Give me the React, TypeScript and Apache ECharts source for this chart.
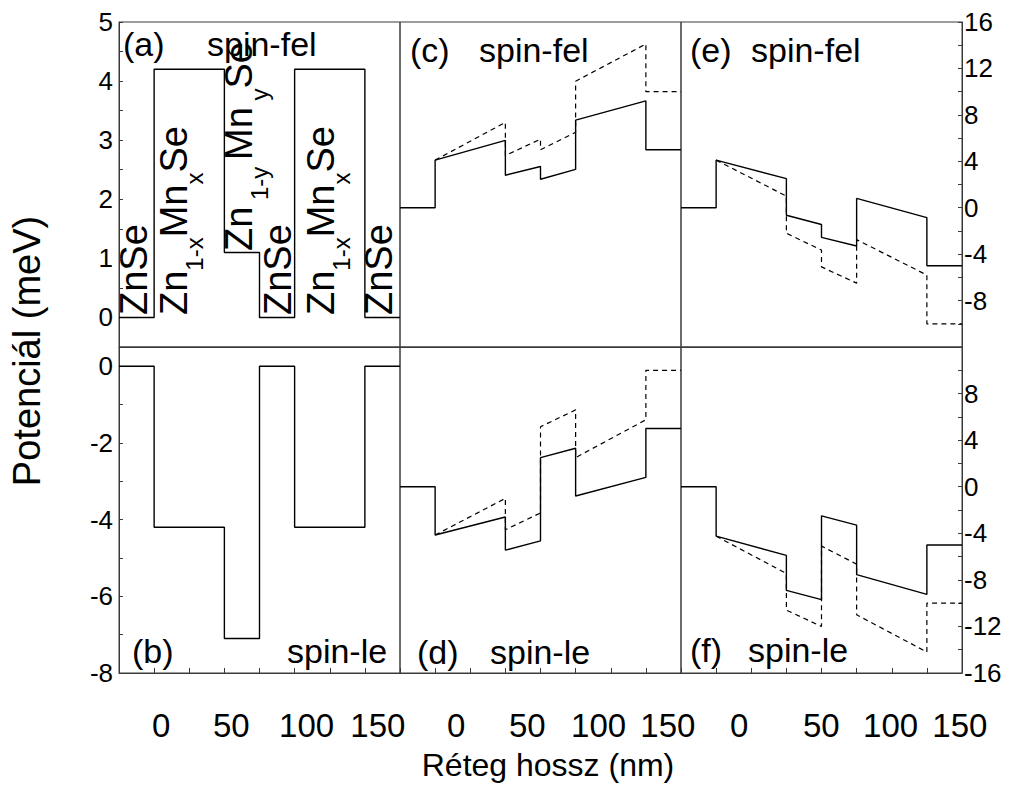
import React, { useEffect, useRef } from 'react';
import * as echarts from 'echarts';

// Layer boundaries along the growth direction (nm)
const layerEdges = [-25, 0, 50, 75, 100, 150, 175];
const xTickLabels = [0, 50, 100, 150];

// Potential per layer: [value at layer start, value at layer end] (meV)
// (a) spin-fel, Mn-profile
const aSolid = [[0, 0], [4.2, 4.2], [1.1, 1.1], [0, 0], [4.2, 4.2], [0, 0]];
// (b) spin-le
const bSolid = [[0, 0], [-4.2, -4.2], [-7.1, -7.1], [0, 0], [-4.2, -4.2], [0, 0]];
// (c) spin-fel
const cSolid = [[0, 0], [4.1, 5.8], [2.8, 3.55], [2.45, 3.3], [7.55, 9.2], [5.0, 5.0]];
const cDashed = [null, [4.1, 7.35], [4.5, 5.9], [5.0, 6.5], [10.9, 14.1], [10, 10]];
// (d) spin-le
const dSolid = [[0, 0], [-4.15, -2.6], [-5.45, -4.65], [2.5, 3.3], [-0.8, 0.8], [5, 5]];
const dDashed = [null, [-4.15, -1.0], [-3.7, -2.25], [5.15, 6.6], [2.5, 5.75], [10, 10]];
// (e) spin-fel
const eSolid = [[0, 0], [4.1, 2.5], [-0.65, -1.45], [-2.55, -3.3], [0.8, -0.85], [-5, -5]];
const eDashed = [null, [4.1, 1.0], [-2.2, -3.65], [-5.1, -6.5], [-2.75, -5.8], [-10, -10]];
// (f) spin-le
const fSolid = [[0, 0], [-4.25, -5.9], [-8.9, -9.7], [-2.5, -3.3], [-7.55, -9.25], [-5, -5]];
const fDashed = [null, [-4.25, -7.45], [-10.6, -12], [-5.1, -6.65], [-11, -14.2], [-10, -10]];

const panelTags = ['(a)', '(b)', '(c)', '(d)', '(e)', '(f)'];
const panelSpins = ['spin-fel', 'spin-le', 'spin-fel', 'spin-le', 'spin-fel', 'spin-le'];

const FONT = "'Liberation Sans', Arial, Helvetica, sans-serif";
const FRAME = '#3a3a3a';

function steps(layers: (number[] | null)[]) {
  const pts: number[][] = [];
  layers.forEach((l, i) => {
    if (!l) return;
    pts.push([layerEdges[i], l[0]], [layerEdges[i + 1], l[1]]);
  });
  return pts;
}

const grids = [
  { left: 119, top: 22, width: 281, height: 325 },
  { left: 119, top: 347, width: 281, height: 326 },
  { left: 400, top: 22, width: 281, height: 325 },
  { left: 400, top: 347, width: 281, height: 326 },
  { left: 681, top: 22, width: 281, height: 325 },
  { left: 681, top: 347, width: 281, height: 326 },
];

// horizontal shift of x tick labels per column (px)
const labelShift: Record<number, number[]> = {
  1: [7, 7, 12, 13],
  3: [21, 22, 23, 22],
  5: [23, 35, 34, 33],
};

const frameLine = { show: true, onZero: false, lineStyle: { color: FRAME, width: 1 } };

function makeXAxis(i: number) {
  const bottom = i % 2 === 1;
  const rich: any = {};
  if (bottom) {
    labelShift[i].forEach((s, k) => {
      rich['o' + k] = { fontSize: 33, fontFamily: FONT, color: '#000', padding: [0, 0, 0, 2 * s] };
    });
  }
  return {
    gridIndex: i,
    type: 'value',
    position: 'bottom',
    min: -25,
    max: 175,
    interval: 25,
    axisLine: frameLine,
    splitLine: { show: false },
    axisTick: { show: bottom, inside: true, length: 5, lineStyle: { color: FRAME, width: 1 } },
    axisLabel: bottom
      ? {
          show: true,
          margin: 36,
          fontSize: 33,
          fontFamily: FONT,
          color: '#000',
          formatter: (v: number) => {
            const k = xTickLabels.indexOf(v);
            return k >= 0 ? `{o${k}|${v}}` : '';
          },
          rich,
        }
      : { show: false },
  };
}

const yCommon = {
  type: 'value',
  axisLine: frameLine,
  splitLine: { show: false },
  axisTick: { show: true, inside: true, length: 4, lineStyle: { color: FRAME, width: 1 } },
};
const yLabel = { fontSize: 26, fontFamily: FONT, color: '#000', showMinLabel: true, showMaxLabel: true };

const yAxes = [
  {
    ...yCommon, gridIndex: 0, position: 'left', min: -0.5, max: 5, interval: 0.5,
    axisLabel: { ...yLabel, margin: 6, formatter: (v: number) => (v >= 0 && Number.isInteger(v) ? String(v) : '') },
  },
  {
    ...yCommon, gridIndex: 1, position: 'left', min: -8, max: 0.5, interval: 1,
    axisLabel: { ...yLabel, margin: 6, formatter: (v: number) => (Number.isInteger(v) && v % 2 === 0 && v <= 0 ? String(v) : '') },
  },
  { gridIndex: 2, type: 'value', show: false, min: -12, max: 16, axisLine: { onZero: false } },
  { gridIndex: 3, type: 'value', show: false, min: -16, max: 12, axisLine: { onZero: false } },
  {
    ...yCommon, gridIndex: 4, position: 'right', min: -12, max: 16, interval: 2,
    axisLabel: { ...yLabel, margin: 2, formatter: (v: number) => (v % 4 === 0 && v !== -12 ? String(v) : '') },
  },
  {
    ...yCommon, gridIndex: 5, position: 'right', min: -16, max: 12, interval: 2,
    axisLabel: { ...yLabel, margin: 2, formatter: (v: number) => (v % 4 === 0 && v !== 12 ? String(v) : '') },
  },
];

function lineSeries(i: number, layers: (number[] | null)[], dashed: boolean) {
  return {
    type: 'line',
    xAxisIndex: i,
    yAxisIndex: i,
    data: steps(layers),
    symbol: 'none',
    showSymbol: false,
    silent: true,
    lineStyle: { color: '#000', width: dashed ? 1.2 : 1.4, type: dashed ? [5, 4] : 'solid' },
    z: dashed ? 3 : 2,
  };
}

const rich = {
  m: { fontSize: 38, lineHeight: 38, fontFamily: FONT, fill: '#000', color: '#000', verticalAlign: 'top' },
  s: { fontSize: 24, lineHeight: 24, fontFamily: FONT, fill: '#000', color: '#000', verticalAlign: 'top', padding: [27, 0, 0, 0] },
};

const layerNames = [
  { text: '{m|ZnSe}', x: 115, y: 315 },
  { text: '{m|Zn}{s|1-x}{m|Mn}{s|x}{m|Se}', x: 155, y: 315 },
  { text: '{m|Zn}{s| 1-y }{m|Mn}{s| y}{m|Se}', x: 220, y: 251 },
  { text: '{m|ZnSe}', x: 259, y: 315 },
  { text: '{m|Zn}{s|1-x}{m|Mn}{s|x}{m|Se}', x: 302, y: 315 },
  { text: '{m|ZnSe}', x: 360, y: 315 },
];

const tagPos = [
  { tx: 123, sx: 207, y: 44 },
  { tx: 132, sx: 287, y: 651 },
  { tx: 410, sx: 479, y: 50 },
  { tx: 417, sx: 490, y: 652 },
  { tx: 690, sx: 751, y: 50 },
  { tx: 690, sx: 748, y: 650 },
];

export default function App() {
  const ref = useRef<HTMLDivElement>(null);
  useEffect(() => {
    if (!ref.current) return;
    const chart = echarts.init(ref.current, null, { renderer: 'svg' });

    const graphic: any[] = [];
    layerNames.forEach((l) => {
      graphic.push({
        type: 'text', x: l.x, y: l.y, rotation: Math.PI / 2, silent: true,
        style: { text: l.text, rich, align: 'left', verticalAlign: 'top', fill: '#000' },
      });
    });
    tagPos.forEach((p, i) => {
      graphic.push({
        type: 'text', x: p.tx, y: p.y, silent: true,
        style: { text: panelTags[i], fontSize: 34, fontFamily: FONT, fill: '#000', align: 'left', verticalAlign: 'middle' },
      });
      graphic.push({
        type: 'text', x: p.sx, y: p.y, silent: true,
        style: { text: panelSpins[i], fontSize: 34, fontFamily: FONT, fill: '#000', align: 'left', verticalAlign: 'middle' },
      });
    });
    graphic.push({
      type: 'text', x: 27, y: 351, rotation: Math.PI / 2, silent: true,
      style: { text: 'Potenciál (meV)', fontSize: 38, fontFamily: FONT, fill: '#000', align: 'center', verticalAlign: 'middle' },
    });
    graphic.push({
      type: 'text', x: 548, y: 765, silent: true,
      style: { text: 'Réteg hossz (nm)', fontSize: 32, fontFamily: FONT, fill: '#000', align: 'center', verticalAlign: 'middle' },
    });

    chart.setOption({
      animation: false,
      backgroundColor: '#fff',
      grid: grids.map((g) => ({ ...g, show: true, borderColor: FRAME, borderWidth: 1, backgroundColor: 'transparent' })),
      xAxis: grids.map((_, i) => makeXAxis(i)),
      yAxis: yAxes,
      series: [
        lineSeries(0, aSolid, false),
        lineSeries(1, bSolid, false),
        lineSeries(2, cSolid, false),
        lineSeries(2, cDashed, true),
        lineSeries(3, dSolid, false),
        lineSeries(3, dDashed, true),
        lineSeries(4, eSolid, false),
        lineSeries(4, eDashed, true),
        lineSeries(5, fSolid, false),
        lineSeries(5, fDashed, true),
      ],
      graphic,
    });
    return () => chart.dispose();
  }, []);
  return (
    <div
      ref={ref}
      style={{ position: 'fixed', left: 0, top: 0, width: 1017, height: 789, background: '#fff' }}
    />
  );
}
